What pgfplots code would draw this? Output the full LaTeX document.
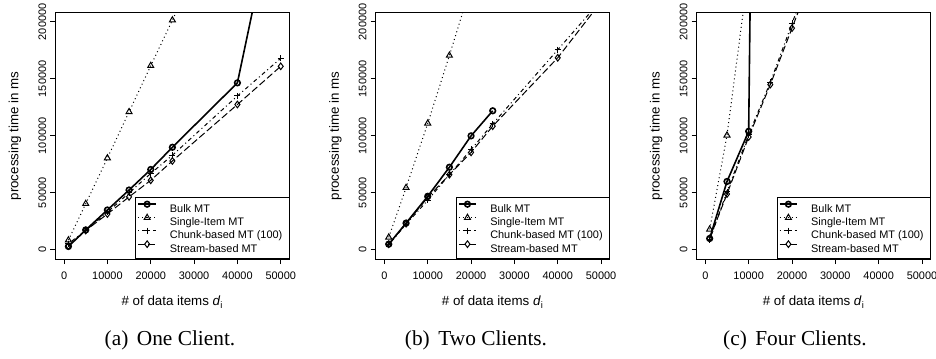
\documentclass[border=0pt]{standalone}
\usepackage{fontspec}
\setmainfont{Liberation Sans}
\newfontfamily\capfont{Liberation Serif}
\usepackage{pgfplots}
\pgfplotsset{compat=1.18}
\pgfplotsset{
 rplot/.style={
  width=175.5pt, height=184.7pt, scale only axis,
  xmin=-2000, xmax=52000, ymin=-8000, ymax=208000,
  xtick={0,10000,20000,30000,40000,50000}, ytick={0,50000,100000,150000,200000},
  xticklabels={0,10000,20000,30000,40000,50000},
  yticklabels={0,50000,100000,150000,200000},
  xtick pos=bottom, ytick pos=left, tick align=outside,
  major tick length=3.75pt,
  every tick/.style={black, line width=0.6pt},
  axis line style={line width=0.7pt},
  scaled ticks=false,
  tick label style={font=\fontsize{8.2}{9}\selectfont},
  yticklabel style={rotate=90, anchor=south, inner sep=0pt},
  xticklabel style={anchor=north, inner sep=0pt},
  xticklabel shift=6pt, yticklabel shift=3pt,
  label style={font=\fontsize{10}{12}\selectfont},
  xlabel={\# of data items \textit{d}\textsubscript{i}},
  ylabel={processing time in ms},
  xlabel style={at={(axis description cs:0.5,-0.175)}, anchor=center},
  ylabel style={at={(axis description cs:-0.1726,0.5)}, anchor=center},
  legend style={at={(1,0)}, anchor=south east, draw=black, line width=0.6pt,
    inner xsep=1.5pt, inner ysep=3.3pt, row sep=0pt, column sep=10pt,
    font=\fontsize{8.2}{9}\selectfont, nodes={inner sep=0pt}},
  legend cell align=left,
  legend image code/.code={\draw[mark repeat=2,mark phase=2,##1] plot coordinates {(0pt,2.95pt)(6.5pt,2.95pt)(13pt,2.95pt)};},
  bulk/.style={black, line width=1.2pt, mark=o, mark size=2.1pt, mark options={solid}},
  single/.style={black, line width=0.75pt, dash pattern=on 0.75pt off 2.25pt, mark=triangle, mark size=2.6pt, mark options={solid}},
  chunk/.style={black, line width=0.75pt, dash pattern=on 0.75pt off 2.25pt on 3pt off 2.25pt, mark=+, mark size=2.3pt, mark options={solid}},
  stream/.style={black, line width=0.75pt, dash pattern=on 5.25pt off 2.25pt, mark=diamond, mark size=2.5pt, mark options={solid}},
 }
}
\newcommand{\legs}{%
  \addlegendentry{\makebox[87.8pt][l]{Bulk MT}\rule[-1.75pt]{0pt}{9.4pt}}
  \addlegendentry{\makebox[87.8pt][l]{Single-Item MT}\rule[-1.75pt]{0pt}{9.4pt}}
  \addlegendentry{\makebox[87.8pt][l]{Chunk-based MT (100)}\rule[-1.75pt]{0pt}{9.4pt}}
  \addlegendentry{\makebox[87.8pt][l]{Stream-based MT}\rule[-9.3pt]{0pt}{16.95pt}}}
\begin{document}
\begin{tikzpicture}
\useasboundingbox (0,0) rectangle (702pt,268.5pt);
% (a) One Client
\begin{axis}[rplot, at={(41.55pt,74.25pt)}, anchor=south west]
\addplot[bulk] coordinates {(1000,3000) (5000,17500) (10000,35000) (15000,52500) (20000,70500) (25000,90000) (40000,146500) (50000,327000)};
\addplot[single] coordinates {(1000,8500) (5000,40500) (10000,80500) (15000,121000) (20000,161500) (25000,201500) (30000,242000)};
\addplot[chunk] coordinates {(1000,5500) (5000,17000) (10000,33000) (15000,50000) (20000,67000) (25000,83000) (40000,135000) (50000,168000)};
\addplot[stream] coordinates {(1000,3500) (5000,17000) (10000,31500) (15000,46500) (20000,61000) (25000,78000) (40000,127500) (50000,161000)};
\legs
\end{axis}
% (b) Two Clients
\begin{axis}[rplot, at={(281.8pt,74.25pt)}, anchor=south west]
\addplot[bulk] coordinates {(1000,5000) (5000,23500) (10000,47000) (15000,72500) (20000,100000) (25000,122000)};
\addplot[single] coordinates {(1000,11000) (5000,54500) (10000,111000) (15000,170500) (20000,232000)};
\addplot[chunk] coordinates {(1000,4500) (5000,22500) (10000,43500) (15000,66000) (20000,88000) (25000,110500) (40000,175500) (50000,219000)};
\addplot[stream] coordinates {(1000,5000) (5000,23000) (10000,46000) (15000,66000) (20000,85500) (25000,108500) (40000,168500) (50000,217500)};
\legs
\end{axis}
% (c) Four Clients
\begin{axis}[rplot, at={(522.5pt,74.25pt)}, anchor=south west]
\addplot[bulk] coordinates {(1000,10000) (5000,60000) (10000,104000) (15000,1750000)};
\addplot[single] coordinates {(1000,18000) (5000,100500) (10000,245000)};
\addplot[chunk] coordinates {(1000,9000) (5000,51000) (10000,101000) (15000,147000) (20000,198500) (25000,250000)};
\addplot[stream] coordinates {(1000,10000) (5000,49000) (10000,99000) (15000,145000) (20000,194500) (25000,244000)};
\legs
\end{axis}
\node[font=\capfont\fontsize{16}{19}\selectfont] at (127.5pt,13.5pt) {(a)\hspace{0.4em}One Client.};
\node[font=\capfont\fontsize{16}{19}\selectfont] at (357pt,13.5pt) {(b)\hspace{0.4em}Two Clients.};
\node[font=\capfont\fontsize{16}{19}\selectfont] at (596.25pt,13.5pt) {(c)\hspace{0.4em}Four Clients.};
\end{tikzpicture}
\end{document}
